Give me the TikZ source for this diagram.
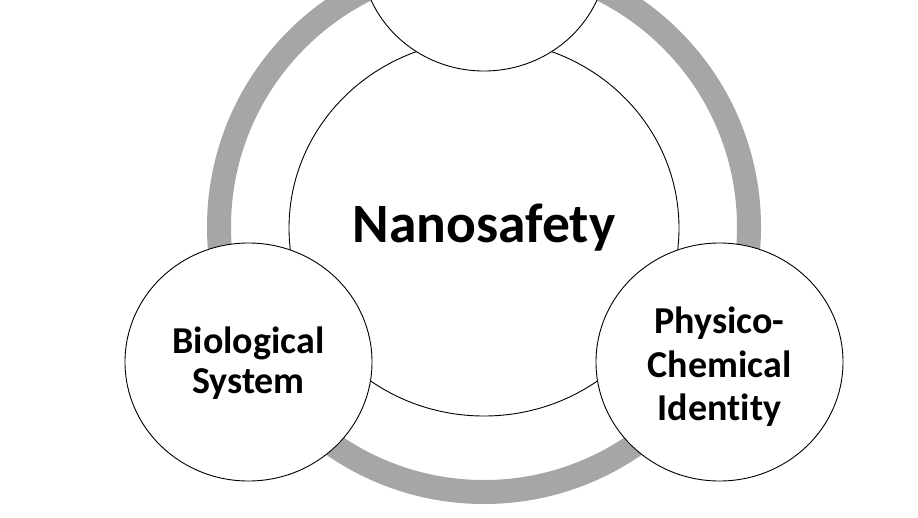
\documentclass[tikz,border=0pt]{standalone}
\usepackage{fontspec}
\setmainfont{Carlito}[Ligatures=NoCommon]
\usetikzlibrary{shapes.geometric}
\definecolor{ringgray}{RGB}{166,166,166}
\begin{document}
\begin{tikzpicture}[x=1pt,y=-1pt,
  ringstyle/.style={draw=ringgray, line width=24pt},
  bigcirc/.style={ellipse, draw=black, line width=0.9pt, fill=white,
    minimum width=390pt, minimum height=376pt, inner sep=0pt, outer sep=0pt,
    font=\bfseries\fontsize{55.5}{60}\selectfont},
  smallcirc/.style={ellipse, draw=black, line width=0.9pt, fill=white,
    minimum width=247pt, minimum height=238pt, inner sep=0pt, outer sep=0pt},
  circtext/.style={align=center, inner sep=0pt}]
\useasboundingbox[fill=white] (0,0) rectangle (918,517);
\coordinate (ringc) at (484,227);
\draw[ringstyle] (ringc) circle[radius=265];
\node[bigcirc] (core) at (484,228) {Nanosafety};
\node[smallcirc] (topc) at (484,-48) {};
\node[smallcirc, label={[circtext, font=\bfseries\fontsize{38}{39.5}\selectfont, yshift=-1pt]center:Biological\\System}] (bio) at (248.5,362) {};
\node[smallcirc, label={[circtext, font=\bfseries\fontsize{38}{43.5}\selectfont, yshift=-5pt]center:Physico-\\Chemical\\Identity}] (phys) at (719.5,362) {};
\end{tikzpicture}
\end{document}
